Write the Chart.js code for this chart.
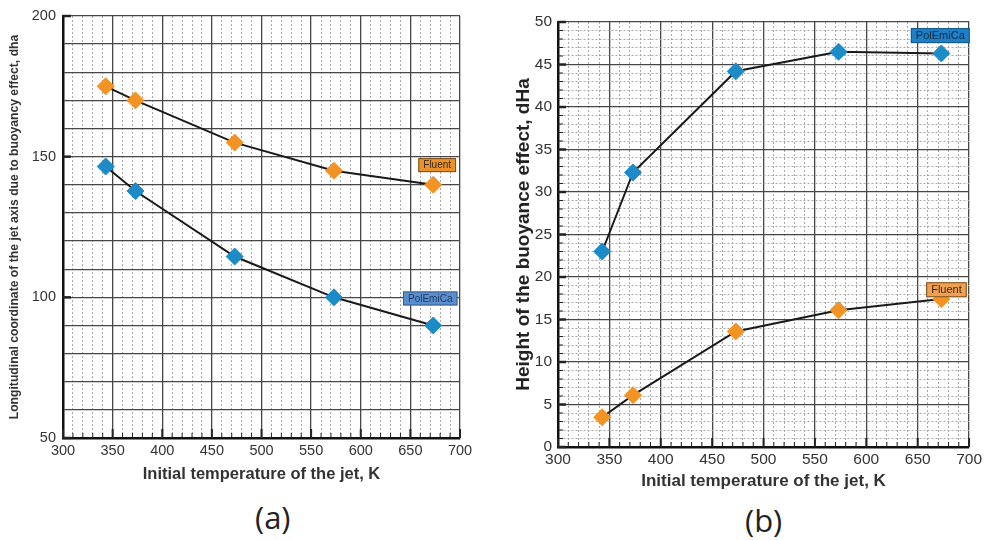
<!DOCTYPE html>
<html>
<head>
<meta charset="utf-8">
<script src="https://cdn.jsdelivr.net/npm/chart.js@4.4.1/dist/chart.umd.min.js"></script>
<style>
  body { margin: 0; background: #fff; width: 985px; height: 540px; position: relative; overflow: hidden; }
  #wrapA { position: absolute; left: 0; top: 0; width: 482px; height: 490px; }
  #wrapB { position: absolute; left: 490px; top: 0; width: 495px; height: 495px; }
  .cap { position: absolute; font-family: 'Open Sans', sans-serif; font-size: 31px; color: #222; }
</style>
</head>
<body>
<div id="wrapA"><canvas id="chartA" width="482" height="490"></canvas></div>
<div id="wrapB"><canvas id="chartB" width="495" height="495"></canvas></div>
<div class="cap" style="left:255px; top:496px;">(a)</div>
<div class="cap" style="left:745px; top:499px;">(b)</div>
<script>
// initial jet temperature, K
const temps = [343, 373, 473, 573, 673];

// (a) longitudinal coordinate of the jet axis, dha
const fluentA = [175, 170, 155, 145, 140];
const polemicaA = [146.5, 137.8, 114.5, 100, 90];

// (b) height of the buoyance effect, dHa
const fluentB = [3.5, 6.1, 13.6, 16.1, 17.4];
const polemicaB = [23, 32.3, 44.2, 46.5, 46.3];

const orange = '#F39323';
const blue = '#1D8BC8';
const sans = "'Liberation Sans', Arial, sans-serif";

function pts(ys) {
  return temps.map((t, i) => ({ x: t, y: ys[i] }));
}

function series(label, ys, color) {
  return {
    label: label,
    data: pts(ys),
    showLine: true,
    borderColor: '#1a1a1a',
    borderWidth: 2,
    pointStyle: 'rectRot',
    pointRadius: 8.5,
    pointBackgroundColor: color,
    pointBorderColor: color,
    pointBorderWidth: 1
  };
}

// small ticks drawn inside the plot frame
const inwardTicks = {
  id: 'inwardTicks',
  beforeDatasetsDraw(chart, args, opts) {
    const { ctx, chartArea } = chart;
    const xs = chart.scales.x, ys = chart.scales.y;
    ctx.save();
    ctx.strokeStyle = '#222';
    xs.ticks.forEach(t => {
      const major = t.value % opts.xMajor === 0;
      const px = xs.getPixelForValue(t.value);
      ctx.lineWidth = major ? 2 : 1;
      ctx.beginPath();
      ctx.moveTo(px, chartArea.bottom);
      ctx.lineTo(px, chartArea.bottom - (major ? 9 : 5));
      ctx.stroke();
    });
    ys.ticks.forEach(t => {
      const major = t.value % opts.yMajor === 0;
      if (!major && !opts.yMinor) return;
      const py = ys.getPixelForValue(t.value);
      ctx.lineWidth = major ? 2.5 : 1;
      ctx.beginPath();
      ctx.moveTo(chartArea.left, py);
      ctx.lineTo(chartArea.left + (major ? 8 : 5), py);
      ctx.stroke();
    });
    ctx.restore();
  }
};

// coloured name tags next to the last points
const tags = {
  id: 'tags',
  afterDatasetsDraw(chart, args, opts) {
    const { ctx } = chart;
    const xs = chart.scales.x, ys = chart.scales.y;
    ctx.save();
    ctx.font = opts.size + 'px ' + sans;
    ctx.textAlign = 'center';
    ctx.textBaseline = 'middle';
    opts.items.forEach(it => {
      const cx = xs.getPixelForValue(it.x);
      const cy = ys.getPixelForValue(it.y);
      const w = ctx.measureText(it.text).width + 10;
      const h = opts.size + 4;
      ctx.fillStyle = it.fill;
      ctx.fillRect(cx - w / 2, cy - h / 2, w, h);
      ctx.strokeStyle = it.edge;
      ctx.lineWidth = 1;
      ctx.strokeRect(cx - w / 2 + 0.5, cy - h / 2 + 0.5, w - 1, h - 1);
      ctx.fillStyle = it.color;
      ctx.fillText(it.text, cx, cy + 0.5);
    });
    ctx.restore();
  }
};

function gridOpts(major, dotted) {
  return {
    drawTicks: false,
    color: c => (!c.tick || c.tick.value % major === 0) ? '#474747' : (dotted ? '#a8a8a8' : 'rgba(0,0,0,0)'),
    lineWidth: c => (!c.tick || c.tick.value % major === 0) ? 1.3 : 1
  };
}

function borderOpts(major) {
  return {
    color: '#111',
    width: 2.5,
    dash: c => (c.tick && c.tick.value % major !== 0) ? [2, 2] : []
  };
}

const configA = {
  type: 'scatter',
  data: {
    datasets: [series('Fluent', fluentA, orange), series('PolEmiCa', polemicaA, blue)]
  },
  options: {
    responsive: false,
    animation: false,
    layout: { padding: { top: 16, right: 22, left: 0, bottom: 0 } },
    plugins: {
      legend: { display: false },
      tooltip: { enabled: false },
      inwardTicks: { xMajor: 50, yMajor: 50, yMinor: false },
      tags: {
        size: 10,
        items: [
          { text: 'Fluent', x: 677, y: 147, fill: '#E8912D', edge: '#7a5020', color: '#3b2a12' },
          { text: 'PolEmiCa', x: 670, y: 99.6, fill: '#5A8FCF', edge: '#3a6090', color: '#1f3a5c' }
        ]
      }
    },
    scales: {
      x: {
        type: 'linear',
        min: 300, max: 700,
        afterFit: s => { s.height = 52; },
        ticks: {
          stepSize: 10, autoSkip: false, maxRotation: 0, padding: 4,
          color: '#333', font: { family: sans, size: 14.5 },
          callback: v => v % 50 === 0 ? v : ''
        },
        grid: gridOpts(50, true),
        border: borderOpts(50),
        title: {
          display: true, text: 'Initial temperature of the jet, K',
          color: '#333', font: { family: sans, size: 16.5, weight: 'bold' },
          padding: { top: 0, bottom: 6 }
        }
      },
      y: {
        min: 50, max: 200,
        afterFit: s => { s.width = 63; },
        ticks: {
          stepSize: 10, autoSkip: false, padding: 7,
          color: '#333', font: { family: sans, size: 14.5 },
          callback: v => v % 50 === 0 ? v : ''
        },
        grid: gridOpts(10, false),
        border: borderOpts(10),
        title: {
          display: true, text: 'Longitudinal coordinate of the jet axis due to buoyancy effect, dha',
          color: '#333', font: { family: sans, size: 12.2, weight: 'bold' },
          padding: { top: 7, bottom: 0 }
        }
      }
    }
  },
  plugins: [inwardTicks, tags]
};

const configB = {
  type: 'scatter',
  data: {
    datasets: [series('PolEmiCa', polemicaB, blue), series('Fluent', fluentB, orange)]
  },
  options: {
    responsive: false,
    animation: false,
    layout: { padding: { top: 22, right: 14, left: 0, bottom: 0 } },
    plugins: {
      legend: { display: false },
      tooltip: { enabled: false },
      inwardTicks: { xMajor: 50, yMajor: 5, yMinor: true },
      tags: {
        size: 11,
        items: [
          { text: 'PolEmiCa', x: 672, y: 48.4, fill: '#1F7FC4', edge: '#155a8a', color: '#0d2a45' },
          { text: 'Fluent', x: 678, y: 18.5, fill: '#F0A050', edge: '#7a5020', color: '#3b2a12' }
        ]
      }
    },
    scales: {
      x: {
        type: 'linear',
        min: 300, max: 700,
        afterFit: s => { s.height = 48; },
        ticks: {
          stepSize: 10, autoSkip: false, maxRotation: 0, padding: 3,
          color: '#333', font: { family: sans, size: 15.5 },
          callback: v => v % 50 === 0 ? v : ''
        },
        grid: gridOpts(50, true),
        border: borderOpts(50),
        title: {
          display: true, text: 'Initial temperature of the jet, K',
          color: '#333', font: { family: sans, size: 17, weight: 'bold' },
          padding: { top: 0, bottom: 3 }
        }
      },
      y: {
        min: 0, max: 50,
        afterFit: s => { s.width = 68; },
        ticks: {
          stepSize: 1, autoSkip: false, padding: 6,
          color: '#333', font: { family: sans, size: 15.5 },
          callback: v => v % 5 === 0 ? v : ''
        },
        grid: gridOpts(5, true),
        border: borderOpts(5),
        title: {
          display: true, text: 'Height of the buoyance effect, dHa',
          color: '#222', font: { family: sans, size: 19, weight: 'bold' },
          padding: { top: 22, bottom: 0 }
        }
      }
    }
  },
  plugins: [inwardTicks, tags]
};

const graficoA = new Chart(document.getElementById('chartA'), configA);
const graficoB = new Chart(document.getElementById('chartB'), configB);
</script>
</body>
</html>
